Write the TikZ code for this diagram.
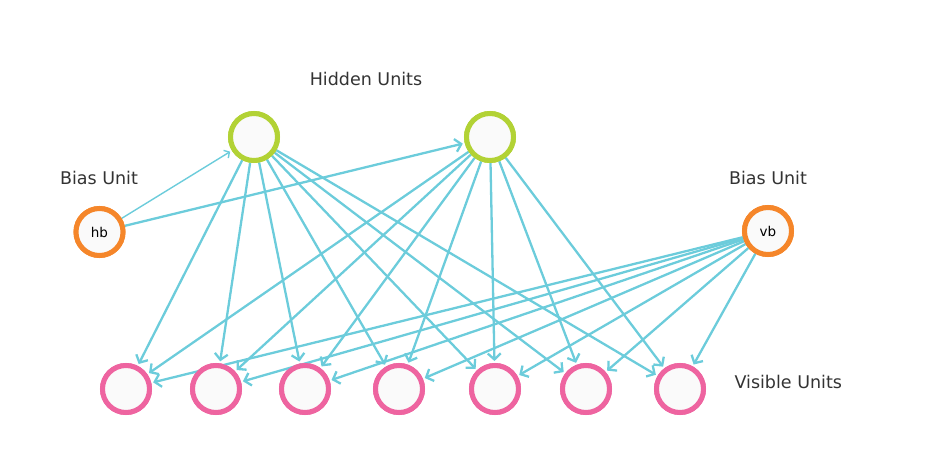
\documentclass[tikz,border=0pt]{standalone}
\usepackage{fontspec}
\setmainfont{DejaVu Sans}
\usetikzlibrary{arrows.meta}
\definecolor{edgecol}{HTML}{6CCCDB}
\definecolor{hidcol}{HTML}{B2D235}
\definecolor{biascol}{HTML}{F5862A}
\definecolor{viscol}{HTML}{EE64A0}
\definecolor{unitfill}{HTML}{FAFAFA}
\begin{document}
\begin{tikzpicture}[x=1pt,y=-1pt,
  unit/.style={circle,minimum size=47pt,inner sep=0pt,line width=5pt,fill=unitfill},
  hidden/.style={unit,draw=hidcol},
  bias/.style={unit,draw=biascol,font=\fontsize{13.5}{15}\selectfont},
  visible/.style={unit,draw=viscol},
  lbl/.style={font=\fontsize{17.5}{20}\selectfont\color{black!80}},
  conn/.style={draw=edgecol,line width=2.3pt,shorten >=2pt,
    -{Straight Barb[length=6pt,width=13pt,line width=2.3pt]}},
  thinconn/.style={draw=edgecol,line width=1.4pt,shorten >=2pt,
    -{Straight Barb[length=4pt,width=9pt,line width=1.4pt]}}]
\useasboundingbox (0,0) rectangle (935,460);

% units
\node[hidden] (h1) at (254,137) {};
\node[hidden] (h2) at (490,137) {};
\node[bias] (hb) at (99.5,232) {hb};
\node[bias] (vb) at (768,231) {vb};
\foreach \i/\x in {1/126,2/216,3/305,4/399,5/495,6/586,7/680}
  \node[visible] (v\i) at (\x,389) {};

% labels
\node[lbl] (lh) at (366,79) {Hidden Units};
\node[lbl] (lb1) at (99,178) {Bias Unit};
\node[lbl] (lb2) at (768,178) {Bias Unit};
\node[lbl,anchor=west] (lv) at (731,382) {Visible Units};

% connections
\foreach \i in {1,...,7} {
  \draw[conn] (h1) -- (v\i);
  \draw[conn] (h2) -- (v\i);
  \draw[conn] (vb) -- (v\i);
}
\draw[thinconn] (hb) -- (h1);
\draw[conn] (hb) -- (h2);

% redraw units above the connections
\node[hidden] at (h1) {};
\node[hidden] at (h2) {};
\node[bias] at (hb) {hb};
\node[bias] at (vb) {vb};
\foreach \i/\x in {1/126,2/216,3/305,4/399,5/495,6/586,7/680}
  \node[visible] at (\x,389) {};
\end{tikzpicture}
\end{document}
